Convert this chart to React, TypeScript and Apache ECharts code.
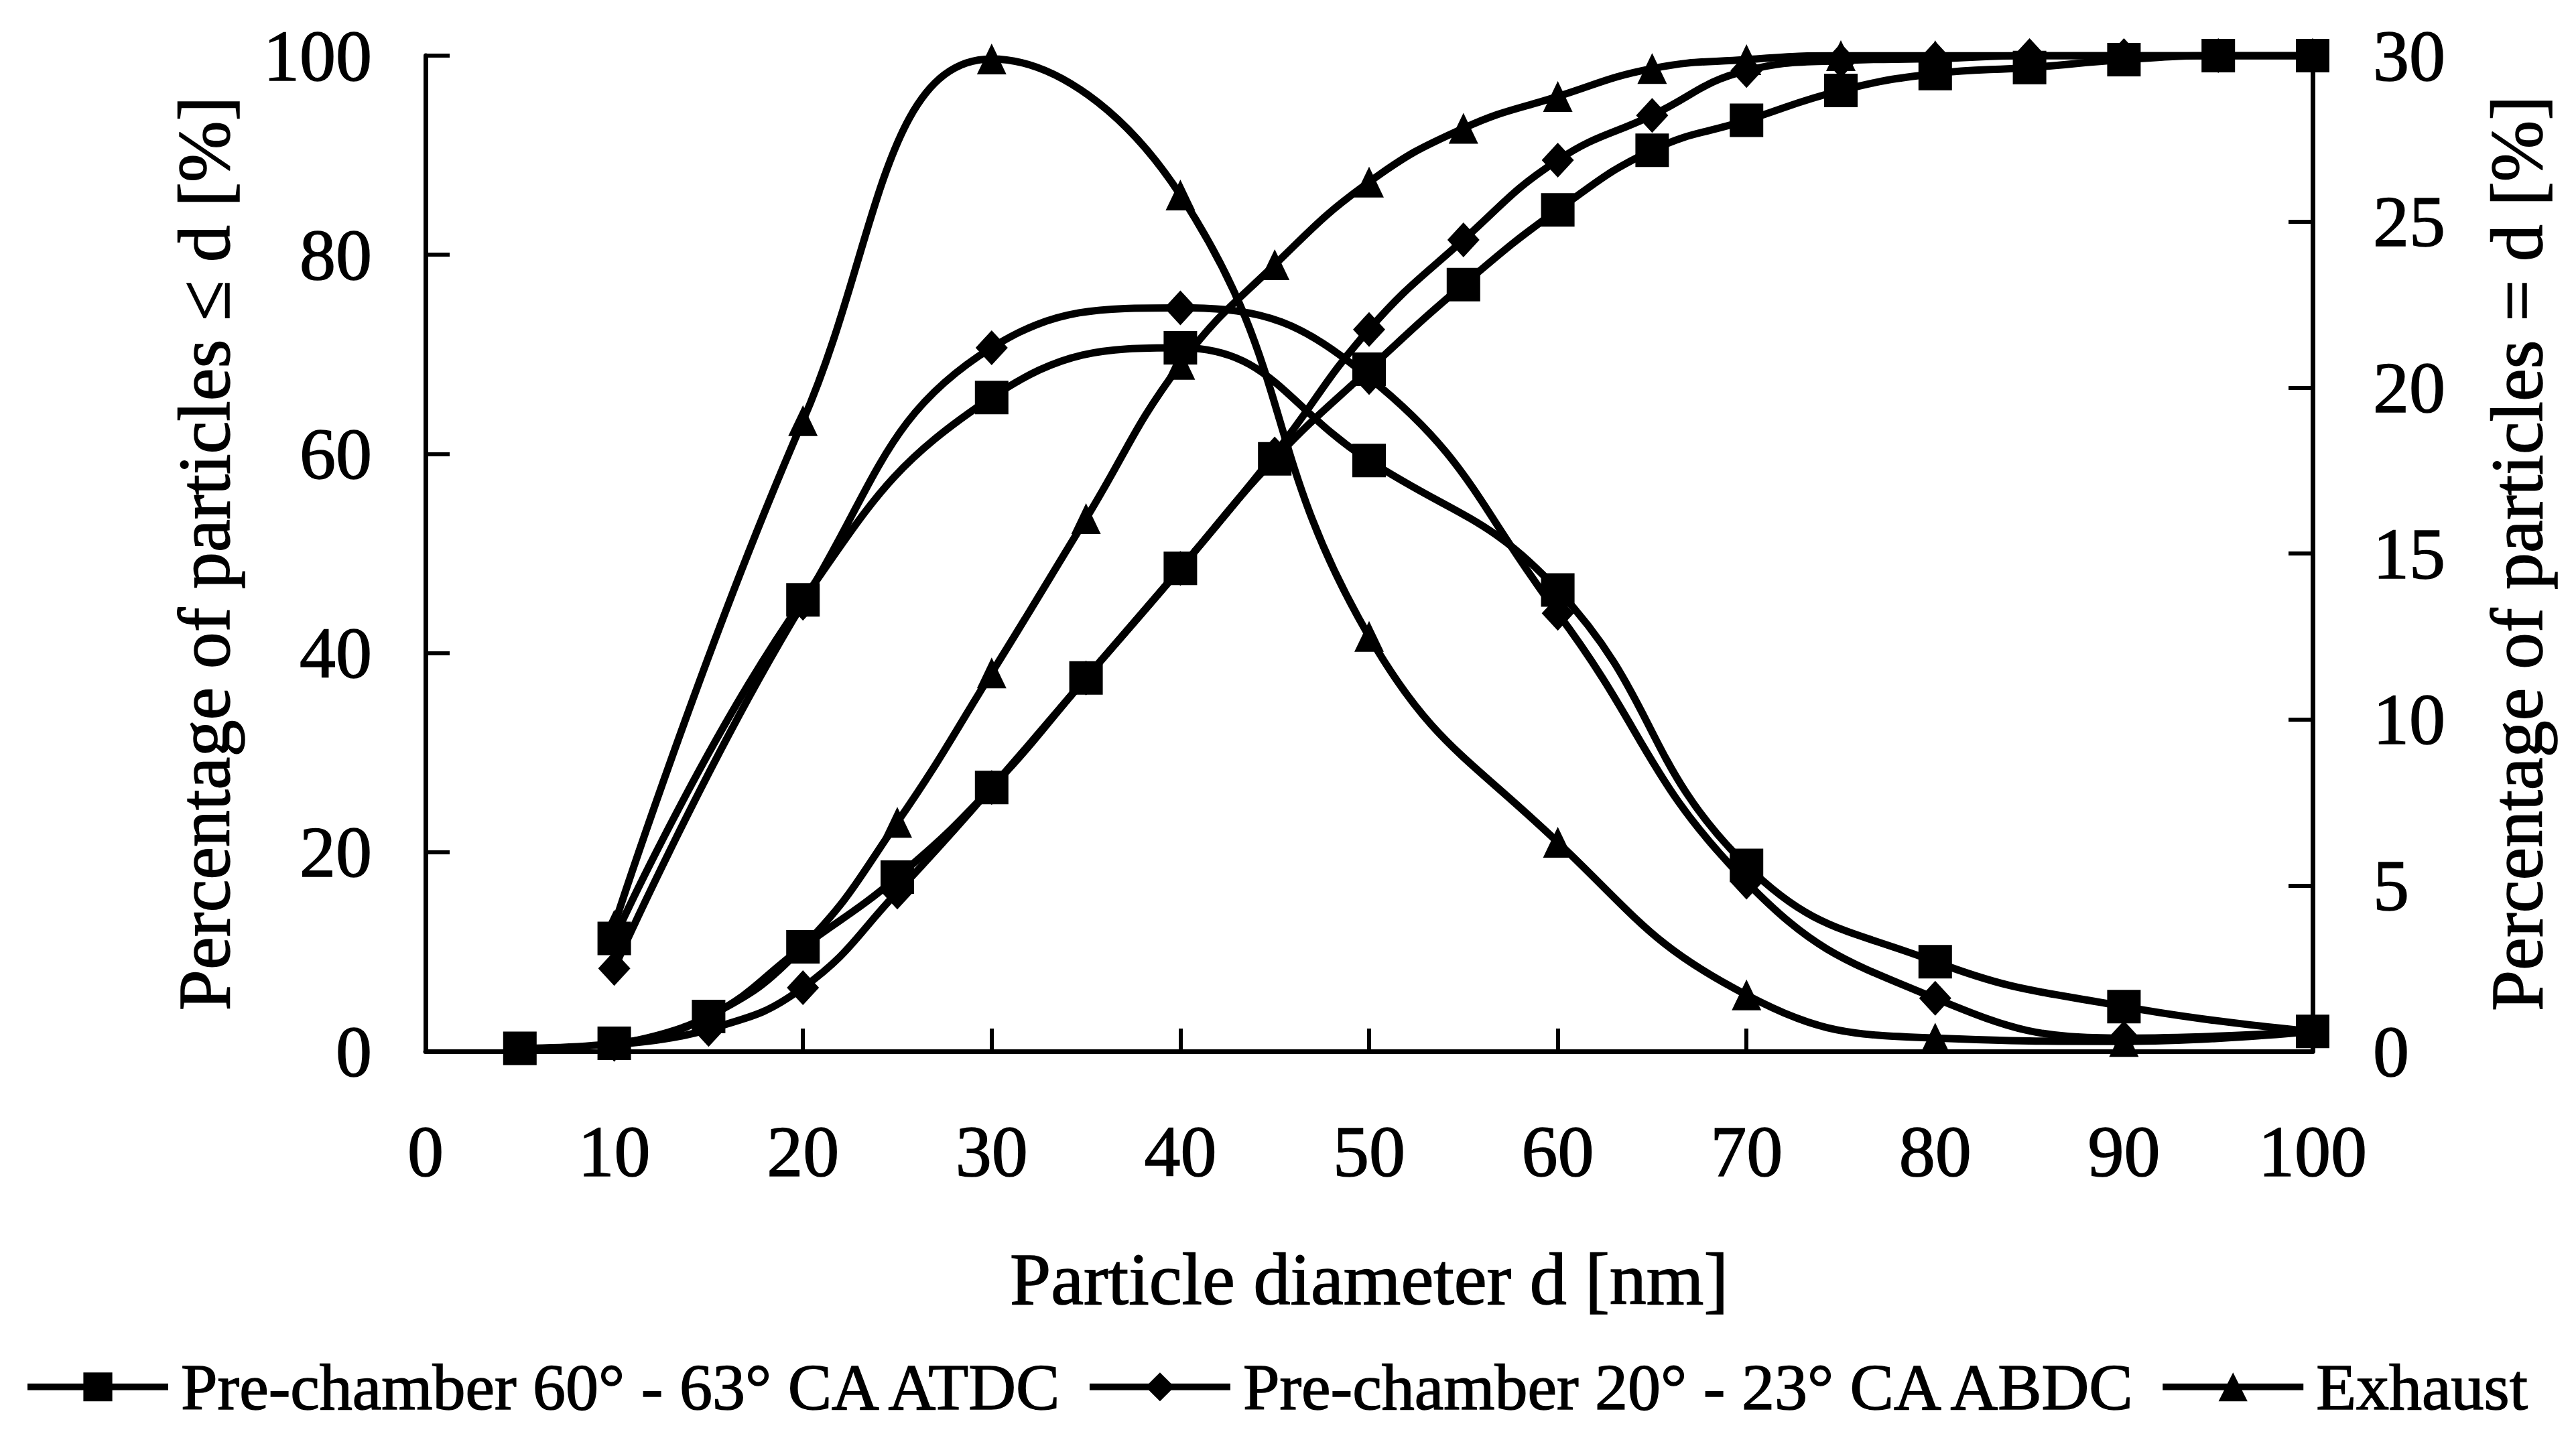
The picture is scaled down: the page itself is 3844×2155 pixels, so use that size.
import React, { useEffect, useRef } from "react";
import * as echarts from "echarts";

// ---- data ----
const seriesNames = [
  "Pre-chamber 60° - 63° CA ATDC",
  "Pre-chamber 20° - 23° CA ABDC",
  "Exhaust",
];

// frequency distribution (right axis, % of particles = d)
const freqX = [10, 20, 30, 40, 50, 60, 70, 80, 90, 100];
const freqA = [3.4, 13.6, 19.7, 21.2, 17.8, 13.9, 5.6, 2.7, 1.35, 0.6];
const freqB = [2.5, 13.5, 21.2, 22.4, 20.3, 13.2, 5.1, 1.6, 0.4, 0.6];
const freqC = [3.8, 19.0, 29.9, 25.8, 12.5, 6.3, 1.7, 0.4, 0.3, 0.6];

// cumulative distribution (left axis, % of particles <= d)
const cumXA = [5, 10, 15, 20, 25, 30, 35, 40, 45, 50, 55, 60, 65, 70, 75, 80, 85, 90, 95, 100];
const cumA = [0.3, 0.8, 3.5, 10.5, 17.5, 26.5, 37.5, 48.5, 59.5, 68.5, 77, 84.5, 90.5, 93.5, 96.5, 98.2, 98.8, 99.6, 100, 100];
const cumX = [10, 15, 20, 25, 30, 35, 40, 45, 50, 55, 60, 65, 70, 75, 80, 85, 90, 95, 100];
const cumB = [0.7, 2.2, 6.4, 16, 26.5, 37.5, 48.5, 60, 72.5, 81.5, 89.5, 94, 98.5, 99.5, 99.7, 100, 100, 100, 100];
const cumC = [0.7, 3.5, 10.5, 23, 38, 53.5, 69, 79, 87.3, 92.7, 95.9, 98.7, 99.6, 100, 100, 100, 100, 100, 100];

const xTicks = [0, 10, 20, 30, 40, 50, 60, 70, 80, 90, 100];

const pairs = (xs: number[], ys: number[]) => xs.map((x, i) => [x, ys[i]]);

const FONT = "Liberation Serif";
const heavy = { textBorderColor: "#000", textBorderWidth: 1.5 };

export default function App() {
  const ref = useRef<HTMLDivElement>(null);
  useEffect(() => {
    if (!ref.current) return;
    const chart = echarts.init(ref.current, null, { renderer: "svg" });
    const markers: Record<string, any> = {
      [seriesNames[0]]: { symbol: "rect", symbolSize: 50 },
      [seriesNames[1]]: { symbol: "diamond", symbolSize: [48, 52] },
      [seriesNames[2]]: { symbol: "triangle", symbolSize: [44, 46] },
    };
    const mk = (name: string, data: number[][], yAxisIndex: number) => ({
      type: "line",
      name,
      data,
      yAxisIndex,
      smooth: 0.45,
      showSymbol: true,
      ...markers[name],
      lineStyle: { color: "#000", width: 11 },
      itemStyle: { color: "#000" },
      emphasis: { disabled: true },
    });
    chart.setOption({
      animation: false,
      backgroundColor: "#fff",
      textStyle: { fontFamily: FONT, color: "#000" },
      grid: { left: 635, right: 393, top: 83, bottom: 586 },
      legend: {
        data: seriesNames,
        left: 36,
        top: 2020,
        width: 3800,
        padding: 0,
        itemWidth: 210,
        itemHeight: 54,
        itemGap: 28,
        lineStyle: { color: "#000", width: 10 },
        itemStyle: { color: "#000" },
        textStyle: { fontFamily: FONT, fontSize: 98, color: "#000", padding: [0, 0, 0, 14], ...heavy },
      },
      xAxis: {
        type: "value",
        min: 0,
        max: 100,
        interval: 10,
        name: "Particle diameter d [nm]",
        nameLocation: "middle",
        nameGap: 285,
        nameTextStyle: { fontFamily: FONT, fontSize: 110, color: "#000", ...heavy },
        axisLine: { show: true, lineStyle: { color: "#000", width: 7 } },
        axisTick: { show: true, inside: true, length: 34, lineStyle: { color: "#000", width: 6 } },
        axisLabel: {
          margin: 95,
          fontFamily: FONT,
          fontSize: 108,
          color: "#000",
          ...heavy,
          formatter: (v: number) => (xTicks.includes(v) ? String(v) : ""),
        },
        splitLine: { show: false },
      },
      yAxis: [
        {
          type: "value",
          min: 0,
          max: 100,
          interval: 20,
          position: "left",
          name: "Percentage of particles ≤ d [%]",
          nameLocation: "middle",
          nameRotate: 90,
          nameGap: 275,
          nameTextStyle: { fontFamily: FONT, fontSize: 110, color: "#000", ...heavy },
          axisLine: { show: true, lineStyle: { color: "#000", width: 7 } },
          axisTick: { show: true, inside: true, length: 36, lineStyle: { color: "#000", width: 6 } },
          axisLabel: { margin: 80, fontFamily: FONT, fontSize: 108, color: "#000", ...heavy },
          splitLine: { show: false },
        },
        {
          type: "value",
          min: 0,
          max: 30,
          interval: 5,
          position: "right",
          name: "Percentage of particles = d [%]",
          nameLocation: "middle",
          nameRotate: 90,
          nameGap: 250,
          nameTextStyle: { fontFamily: FONT, fontSize: 110, color: "#000", ...heavy },
          axisLine: { show: true, lineStyle: { color: "#000", width: 7 } },
          axisTick: { show: true, inside: true, length: 36, lineStyle: { color: "#000", width: 6 } },
          axisLabel: { margin: 90, fontFamily: FONT, fontSize: 108, color: "#000", ...heavy },
          splitLine: { show: false },
        },
      ],
      series: [
        mk(seriesNames[0], pairs(freqX, freqA), 1),
        mk(seriesNames[1], pairs(freqX, freqB), 1),
        mk(seriesNames[2], pairs(freqX, freqC), 1),
        mk(seriesNames[0], pairs(cumXA, cumA), 0),
        mk(seriesNames[1], pairs(cumX, cumB), 0),
        mk(seriesNames[2], pairs(cumX, cumC), 0),
      ],
    });
    return () => chart.dispose();
  }, []);
  return (
    <div
      ref={ref}
      style={{ position: "absolute", left: 0, top: 0, width: 3844, height: 2155, background: "#fff" }}
    />
  );
}
